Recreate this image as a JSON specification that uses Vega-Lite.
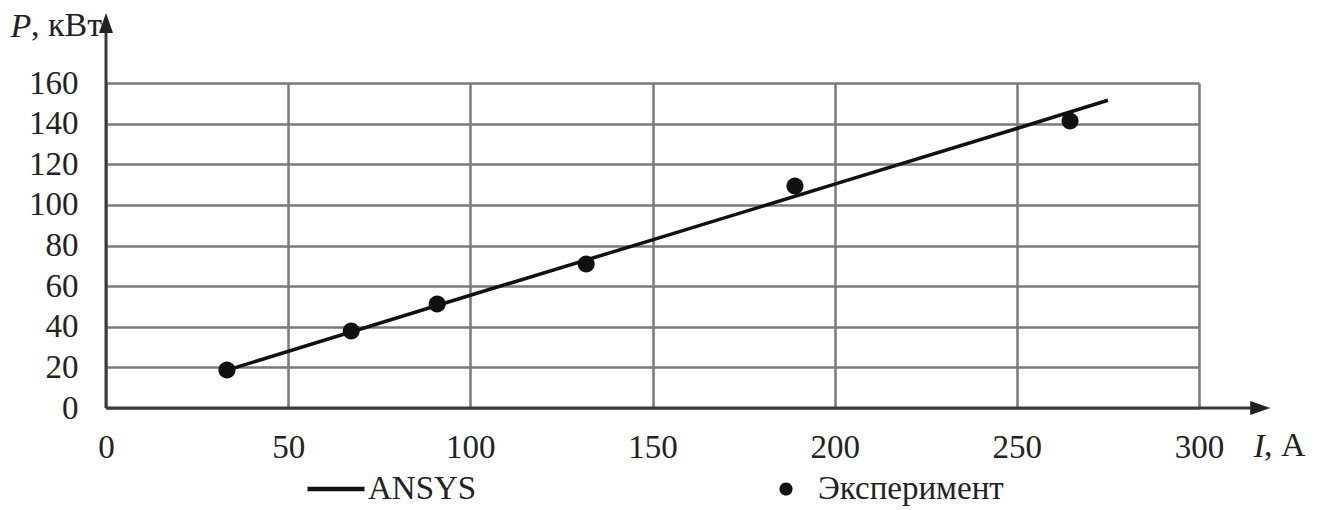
{
  "$schema": "https://vega.github.io/schema/vega-lite/v6.json",
  "width": 1093,
  "height": 325,
  "autosize": {"type": "none"},
  "padding": {"left": 106, "top": 83, "right": 131, "bottom": 102},
  "background": "white",
  "config": {
    "view": {"stroke": null},
    "font": "Liberation Serif",
    "axis": {
      "grid": true,
      "gridColor": "#7a7a7a",
      "gridWidth": 2.5,
      "domain": false,
      "ticks": false,
      "tickSize": 0,
      "labelFont": "Liberation Serif",
      "labelFontSize": 33,
      "labelColor": "#222222",
      "labelFlush": false,
      "labelOverlap": false,
      "titleFont": "Liberation Serif",
      "titleFontSize": 34,
      "titleFontStyle": "italic",
      "titleFontWeight": "normal",
      "titleColor": "#222222",
      "titleAngle": 0,
      "titleAlign": "left",
      "titleBaseline": "alphabetic"
    },
    "axisX": {"labelPadding": 49, "labelBaseline": "alphabetic", "titleX": 1147, "titleY": 48, "tickCount": 6},
    "axisY": {"labelPadding": 28, "titleX": -96, "titleY": -47, "tickCount": 8},
    "legend": {
      "orient": "none",
      "legendX": 201,
      "legendY": 377,
      "direction": "horizontal",
      "columnPadding": 280,
      "symbolSize": 3250,
      "symbolStrokeWidth": 0,
      "symbolFillColor": "black",
      "symbolOpacity": 1,
      "labelFont": "Liberation Serif",
      "labelFontSize": 33,
      "labelColor": "#222222",
      "labelOffset": 3,
      "labelLimit": 400,
      "padding": 0,
      "title": null
    }
  },
  "data": {
    "values": [
      {"I": 33, "P": 18.5, "series": "ANSYS"},
      {"I": 100, "P": 55.5, "series": "ANSYS"},
      {"I": 150, "P": 82.8, "series": "ANSYS"},
      {"I": 200, "P": 110.2, "series": "ANSYS"},
      {"I": 250, "P": 137.6, "series": "ANSYS"},
      {"I": 275, "P": 151.5, "series": "ANSYS"},
      {"I": 33.2, "P": 18.7, "series": "Эксперимент"},
      {"I": 67.3, "P": 37.9, "series": "Эксперимент"},
      {"I": 90.9, "P": 51.2, "series": "Эксперимент"},
      {"I": 131.8, "P": 70.9, "series": "Эксперимент"},
      {"I": 189.1, "P": 109.3, "series": "Эксперимент"},
      {"I": 264.6, "P": 141.3, "series": "Эксперимент"}
    ]
  },
  "layer": [
    {
      "transform": [{"filter": "datum.series === 'Эксперимент'"}],
      "mark": {"type": "point", "filled": true, "opacity": 1, "size": 5460},
      "encoding": {
        "x": {"field": "I", "type": "quantitative", "title": "I", "scale": {"domain": [0, 300], "nice": false}},
        "y": {"field": "P", "type": "quantitative", "title": "P", "scale": {"domain": [0, 160], "nice": false}},
        "color": {"field": "series", "type": "nominal", "scale": {"domain": ["ANSYS", "Эксперимент"], "range": ["#111111", "#111111"]}},
        "shape": {"field": "series", "type": "nominal", "scale": {"domain": ["ANSYS", "Эксперимент"], "range": ["M-1,-0.075L1,-0.075L1,0.075L-1,0.075Z", "M0.23,0A0.23,0.23 0 1,1 -0.23,0A0.23,0.23 0 1,1 0.23,0Z"]}}
      }
    },
    {
      "transform": [{"filter": "datum.series === 'ANSYS'"}],
      "mark": {"type": "line", "strokeWidth": 3.5},
      "encoding": {
        "x": {"field": "I", "type": "quantitative", "title": "I", "scale": {"domain": [0, 300], "nice": false}},
        "y": {"field": "P", "type": "quantitative", "title": "P", "scale": {"domain": [0, 160], "nice": false}},
        "color": {"field": "series", "type": "nominal", "scale": {"domain": ["ANSYS", "Эксперимент"], "range": ["#111111", "#111111"]}}
      }
    },
    {
      "data": {"values": [{}]},
      "mark": {"type": "rule", "color": "#3a3a3a", "strokeWidth": 3},
      "encoding": {
        "x": {"datum": 0, "type": "quantitative", "title": "I", "scale": {"domain": [0, 300], "nice": false}},
        "x2": {"datum": 316.8},
        "y": {"datum": 0, "type": "quantitative", "title": "P", "scale": {"domain": [0, 160], "nice": false}}
      }
    },
    {
      "data": {"values": [{}]},
      "mark": {"type": "rule", "color": "#3a3a3a", "strokeWidth": 3},
      "encoding": {
        "x": {"datum": 0, "type": "quantitative", "title": "I", "scale": {"domain": [0, 300], "nice": false}},
        "y": {"datum": 0, "type": "quantitative", "title": "P", "scale": {"domain": [0, 160], "nice": false}},
        "y2": {"datum": 189.6}
      }
    },
    {
      "data": {"values": [{}]},
      "mark": {"type": "point", "filled": true, "opacity": 1, "color": "#222222", "size": 400, "shape": "M1,0L-1,-0.7L-1,0.7Z"},
      "encoding": {
        "x": {"datum": 316.8, "type": "quantitative", "title": "I", "scale": {"domain": [0, 300], "nice": false}},
        "y": {"datum": 0, "type": "quantitative", "title": "P", "scale": {"domain": [0, 160], "nice": false}}
      }
    },
    {
      "data": {"values": [{}]},
      "mark": {"type": "point", "filled": true, "opacity": 1, "color": "#222222", "size": 400, "shape": "M0,-1L-0.7,1L0.7,1Z"},
      "encoding": {
        "x": {"datum": 0, "type": "quantitative", "title": "I", "scale": {"domain": [0, 300], "nice": false}},
        "y": {"datum": 189.6, "type": "quantitative", "title": "P", "scale": {"domain": [0, 160], "nice": false}}
      }
    },
    {
      "data": {"values": [{}]},
      "mark": {"type": "text", "text": ", кВт", "font": "Liberation Serif", "fontSize": 34, "color": "#222222", "align": "left", "baseline": "alphabetic", "dx": -75, "dy": -47},
      "encoding": {
        "x": {"datum": 0, "type": "quantitative", "title": "I", "scale": {"domain": [0, 300], "nice": false}},
        "y": {"datum": 160, "type": "quantitative", "title": "P", "scale": {"domain": [0, 160], "nice": false}}
      }
    },
    {
      "data": {"values": [{}]},
      "mark": {"type": "text", "text": ", А", "font": "Liberation Serif", "fontSize": 34, "color": "#222222", "align": "left", "baseline": "alphabetic", "dx": 65, "dy": 48},
      "encoding": {
        "x": {"datum": 300, "type": "quantitative", "title": "I", "scale": {"domain": [0, 300], "nice": false}},
        "y": {"datum": 0, "type": "quantitative", "title": "P", "scale": {"domain": [0, 160], "nice": false}}
      }
    }
  ]
}
